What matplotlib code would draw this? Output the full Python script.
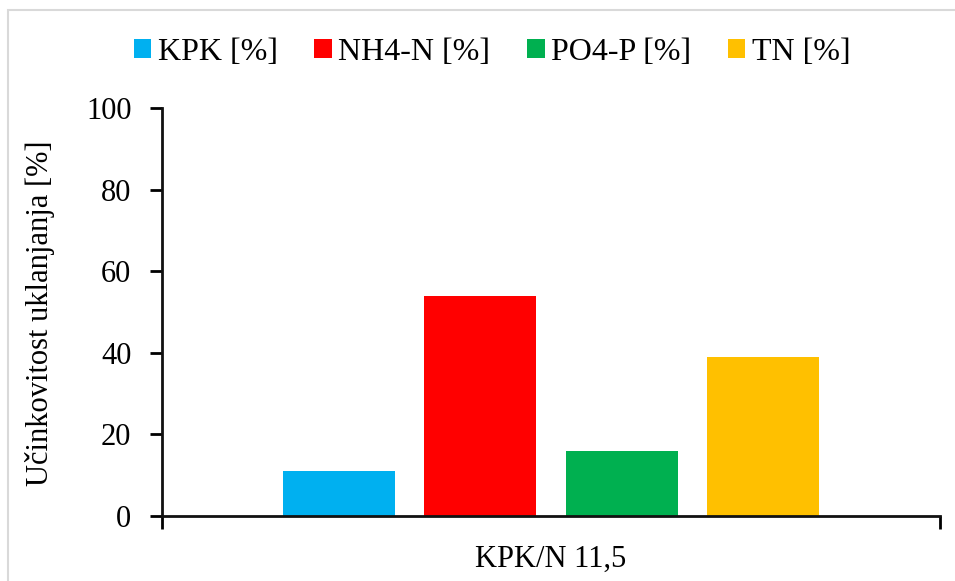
import matplotlib
matplotlib.use("Agg")
import matplotlib.pyplot as plt
from matplotlib.patches import Rectangle

plt.rcParams['font.family'] = ['Liberation Serif', 'DejaVu Serif']

series = ["KPK [%]", "NH4-N [%]", "PO4-P [%]", "TN [%]"]
values = [11, 54, 16, 39]
colors = ["#00B0F0", "#FF0000", "#00B050", "#FFC000"]
category = "KPK/N 11,5"
yticks = [0, 20, 40, 60, 80, 100]

W, H = 955, 581
fig = plt.figure(figsize=(W / 100, H / 100), dpi=100)
fig.patches.append(Rectangle((8 / W, -0.1), 1.1, 1 - 10 / H + 0.1, transform=fig.transFigure,
                             fill=False, edgecolor="#d9d9d9", linewidth=1.5))

ax = fig.add_axes([162 / W, 65 / H, (940 - 162) / W, (516 - 108) / H])

spacing = 0.1815
width = 0.144
handles = []
for i, (s, v, c) in enumerate(zip(series, values, colors)):
    b = ax.bar((i - 1.5) * spacing, v, width=width, color=c, label=s)
    handles.append(b)

ax.set_xlim(-0.5, 0.5)
ax.set_ylim(0, 100)
ax.set_yticks(yticks)
ax.set_xticks([0])
ax.set_xticklabels([category])
ax.set_xticks([-0.5, 0.5], minor=True)
ax.tick_params(axis='x', which='major', length=0, pad=21, labelsize=22)
ax.tick_params(axis='x', which='minor', length=9, width=2, direction='out')
ax.tick_params(axis='y', length=9, width=2, direction='out', pad=13, labelsize=22)
for sp in ['top', 'right']:
    ax.spines[sp].set_visible(False)
for sp in ['left', 'bottom']:
    ax.spines[sp].set_linewidth(2)
    ax.spines[sp].set_color('#111111')

fig.text(40 / W, 1 - 313 / H, "Učinkovitost uklanjanja [%]", rotation=90,
         ha='center', va='center', fontsize=22)

fig.legend(handles=handles, labels=series, loc='center', bbox_to_anchor=(492 / W, 1 - 52 / H),
           ncol=4, frameon=False, fontsize=23, handlelength=0.55, handleheight=0.55,
           handletextpad=0.2, columnspacing=1.15)

fig.savefig("out.png", dpi=100)
